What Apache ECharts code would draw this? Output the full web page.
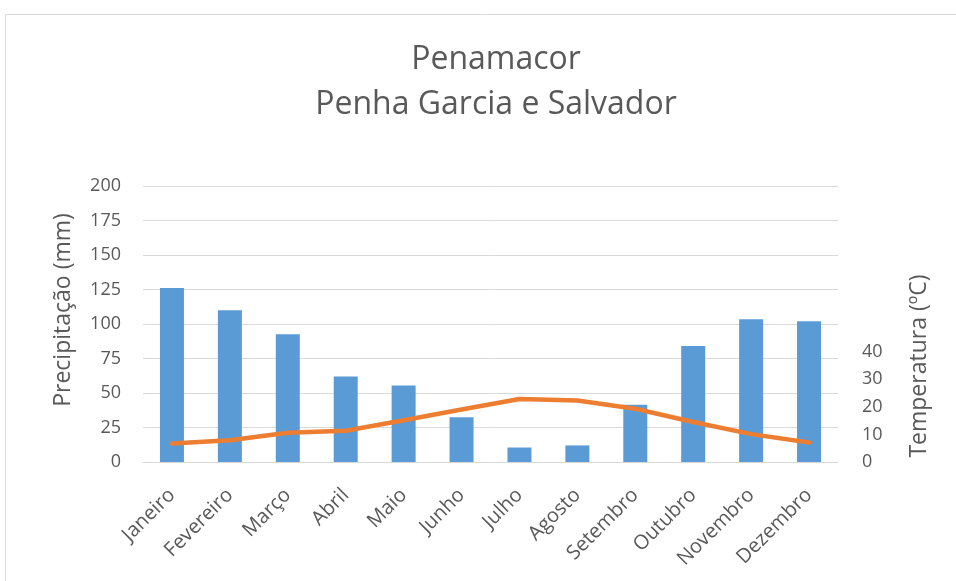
<!doctype html>
<html>
    <head>
        <meta charset="utf-8">
        <title>Penamacor - Penha Garcia e Salvador</title>
        <style>
            html, body { margin: 0; padding: 0; background: #fff; }
            #main { width: 956px; height: 581px; }
        </style>
    </head>
    <body>
        <div id="main"></div>
        <script src="https://cdn.jsdelivr.net/npm/echarts@6/dist/echarts.min.js"></script>
        <script>
            var months = ['Janeiro', 'Fevereiro', 'Março', 'Abril', 'Maio', 'Junho',
                'Julho', 'Agosto', 'Setembro', 'Outubro', 'Novembro', 'Dezembro'];
            var precipitacao = [126, 110, 92.5, 62, 55.5, 32.5, 10.5, 12, 41.5, 84, 103.5, 102];
            var temperatura = [6.7, 7.9, 10.6, 11.3, 15.1, 19.0, 22.8, 22.3, 19.3, 14.5, 10.1, 7.1];

            var textColor = '#595959';
            var font = '"Open Sans", "Noto Sans", sans-serif';

            var chart = echarts.init(document.getElementById('main'));

            chart.setOption({
                animation: false,
                textStyle: { fontFamily: font },
                graphic: [{
                    type: 'rect',
                    shape: { x: 5.5, y: 14.5, width: 1000, height: 600 },
                    style: { fill: 'none', stroke: '#d9d9d9', lineWidth: 1 },
                    silent: true
                }],
                title: {
                    text: 'Penamacor\nPenha Garcia e Salvador',
                    left: 491,
                    top: 32,
                    textAlign: 'center',
                    textStyle: {
                        fontFamily: font,
                        fontSize: 32,
                        fontWeight: 'normal',
                        color: textColor,
                        lineHeight: 45
                    }
                },
                grid: {
                    left: 143,
                    right: 118,
                    top: 186,
                    bottom: 119
                },
                xAxis: {
                    type: 'category',
                    data: months,
                    axisLine: { lineStyle: { color: '#d9d9d9', width: 1 } },
                    axisTick: { show: false },
                    axisLabel: {
                        rotate: 45,
                        fontSize: 20,
                        color: textColor,
                        margin: 30,
                        interval: 0
                    }
                },
                yAxis: [{
                    type: 'value',
                    min: 0,
                    max: 200,
                    interval: 25,
                    name: 'Precipitação (mm)',
                    nameLocation: 'middle',
                    nameGap: 68,
                    nameTextStyle: {
                        fontSize: 23,
                        color: textColor,
                        padding: [0, 0, 0, 28]
                    },
                    axisLine: { show: false },
                    axisTick: { show: false },
                    axisLabel: { fontSize: 18, color: textColor, margin: 22 },
                    splitLine: { lineStyle: { color: '#d9d9d9', width: 1 } }
                }, {
                    type: 'value',
                    min: 0,
                    max: 100,
                    interval: 10,
                    position: 'right',
                    name: 'Temperatura (ºC)',
                    nameLocation: 'middle',
                    nameGap: 70,
                    nameTextStyle: {
                        fontSize: 23,
                        color: textColor,
                        padding: [0, 84, 0, 0]
                    },
                    axisLine: { show: false },
                    axisTick: { show: false },
                    axisLabel: {
                        fontSize: 18,
                        color: textColor,
                        margin: 24,
                        formatter: function (v) {
                            return v <= 40 ? String(v) : '';
                        }
                    },
                    splitLine: { show: false }
                }],
                series: [{
                    name: 'Precipitação',
                    type: 'bar',
                    data: precipitacao,
                    barWidth: 24,
                    itemStyle: { color: '#5B9BD5' }
                }, {
                    name: 'Temperatura',
                    type: 'line',
                    yAxisIndex: 1,
                    data: temperatura,
                    symbol: 'none',
                    smooth: false,
                    lineStyle: { color: '#ED7D31', width: 4.5, cap: 'round', join: 'round' }
                }]
            });

            window.addEventListener('resize', function () {
                chart.resize();
            });
        </script>
    </body>
</html>
